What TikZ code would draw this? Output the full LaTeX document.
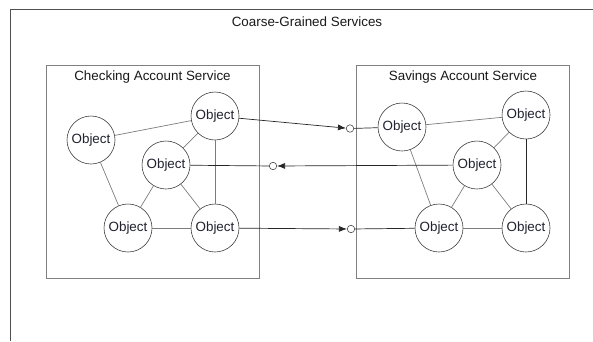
\documentclass[tikz,border=0pt]{standalone}
\usepackage{fontspec}
\setmainfont{Liberation Sans}
\usetikzlibrary{arrows.meta}
\definecolor{objtext}{RGB}{34,34,48}
\definecolor{framegray}{RGB}{80,80,80}
\definecolor{boxgray}{RGB}{128,128,128}
\definecolor{linkgray}{RGB}{125,125,125}
\begin{document}
\begin{tikzpicture}[x=1pt,y=-1pt,
  lbl/.style={font=\fontsize{13.4}{15}\selectfont,text=black!90,inner sep=0pt},
  obj/.style={circle,draw=black!75,fill=white,line width=0.6pt,minimum size=48pt,
    inner sep=0pt,font=\fontsize{13.4}{15}\selectfont,text=objtext},
  port/.style={circle,draw=black!70,fill=white,line width=0.6pt,minimum size=7.5pt,inner sep=0pt},
  svcbox/.style={draw=boxgray,line width=0.9pt,minimum width=213pt,minimum height=213pt,inner sep=0pt},
  link/.style={draw=linkgray,line width=0.7pt},
  darklink/.style={draw=black!85,line width=0.7pt},
  call/.style={draw=black!85,line width=0.7pt},
  callarrow/.style={call,-{Latex[length=8pt,width=6pt]}}]
\useasboundingbox (0,0) rectangle (593,341);

% open outer frame
\coordinate (fbl) at (10,341);
\coordinate (ftl) at (10,9);
\coordinate (ftr) at (593,9);
\draw[framegray,line width=0.8pt] (fbl) -- (ftl) -- (ftr);
\node[lbl] (title) at (307,22) {Coarse-Grained Services};

% service boxes
\node[svcbox] (chk) at (152.5,171.5) {};
\node[svcbox] (sav) at (463,171.5) {};
\node[lbl] (chkt) at (152.5,77) {Checking Account Service};
\node[lbl] (savt) at (463,77) {Savings Account Service};

% checking account objects
\node[obj] (a) at (91,140) {Object};
\node[obj] (b) at (215,116) {Object};
\node[obj] (c) at (166,165) {Object};
\node[obj] (d) at (128,228) {Object};
\node[obj] (e) at (215,228) {Object};

% savings account objects
\node[obj] (f) at (402,127) {Object};
\node[obj] (g) at (526,115) {Object};
\node[obj] (h) at (477,165) {Object};
\node[obj] (i) at (439,228) {Object};
\node[obj] (j) at (526,228) {Object};

% interface ports
\node[port] (p1) at (350,128.5) {};
\node[port] (p2) at (273,166) {};
\node[port] (p3) at (351,229) {};

% links inside checking
\draw[link] (a) -- (b);
\draw[link] (a) -- (d);
\draw[link] (b) -- (c);
\draw[link] (b) -- (e);
\draw[link] (c) -- (d);
\draw[link] (c) -- (e);
\draw[link] (d) -- (e);

% links inside savings
\draw[link] (f) -- (g);
\draw[link] (f) -- (i);
\draw[link] (g) -- (h);
\draw[darklink] (g) -- (j);
\draw[link] (h) -- (i);
\draw[link] (h) -- (j);
\draw[link] (i) -- (j);

% service calls through the ports
\draw[callarrow] (b) -- (p1);
\draw[call] (p1) -- (f);
\draw[callarrow] (h) -- (p2);
\draw[call] (p2) -- (c);
\draw[callarrow] (e) -- (p3);
\draw[call] (p3) -- (i);
\end{tikzpicture}
\end{document}
